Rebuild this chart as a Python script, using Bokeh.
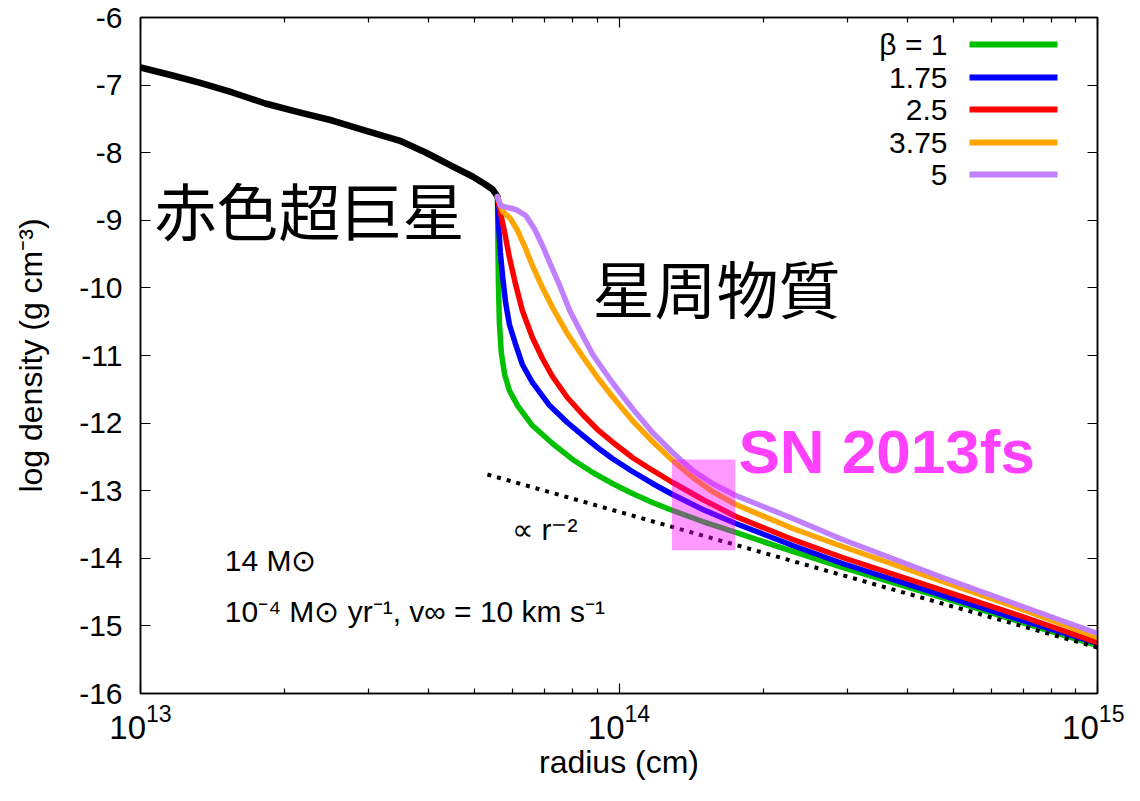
import numpy as np
from bokeh.plotting import figure
from bokeh.models import (Range1d, FixedTicker, LogAxis, LinearAxis, Label, BoxAnnotation,
                          CustomJSTickFormatter)
from bokeh.embed import file_html
from bokeh.resources import INLINE

# ---------------- data ----------------
# red supergiant envelope (log10 radius [cm], log10 density [g cm^-3])
star_log_r = [13.0, 13.067, 13.123, 13.192, 13.261, 13.332, 13.401, 13.470, 13.541, 13.596,
              13.652, 13.694, 13.721, 13.736, 13.746]
star_log_rho = [-6.740, -6.858, -6.962, -7.109, -7.272, -7.405, -7.524, -7.672, -7.820, -7.997,
                -8.204, -8.352, -8.470, -8.544, -8.648]

# circumstellar matter, beta-law winds
b1_log_r = [13.746, 13.747, 13.748, 13.750, 13.754, 13.761, 13.771, 13.788, 13.819, 13.861, 13.903,
            13.945, 13.986, 14.028, 14.070, 14.112, 14.175, 14.244, 14.363, 14.467, 14.676, 14.843, 15.0]
b1_log_rho = [-8.648, -9.328, -9.920, -10.512, -10.956, -11.281, -11.518, -11.740, -12.036, -12.302, -12.538,
              -12.731, -12.893, -13.041, -13.175, -13.293, -13.456, -13.618, -13.899, -14.136, -14.580, -14.950,
              -15.290]

b175_log_r = [13.746, 13.748, 13.752, 13.757, 13.763, 13.771, 13.784, 13.798, 13.819, 13.855, 13.892, 13.924,
              13.955, 13.986, 14.028, 14.070, 14.112, 14.175, 14.244, 14.363, 14.467, 14.676, 14.843, 15.0]
b175_log_rho = [-8.648, -9.033, -9.476, -9.846, -10.216, -10.541, -10.837, -11.133, -11.399, -11.740, -11.991,
                -12.183, -12.361, -12.524, -12.716, -12.893, -13.056, -13.278, -13.485, -13.811, -14.077, -14.550,
                -14.920, -15.260]

b25_log_r = [13.746, 13.750, 13.761, 13.771, 13.784, 13.798, 13.819, 13.840, 13.861, 13.892, 13.924, 13.955,
             13.993, 14.028, 14.064, 14.112, 14.175, 14.244, 14.363, 14.467, 14.676, 14.843, 15.0]
b25_log_rho = [-8.648, -8.811, -9.180, -9.550, -9.950, -10.334, -10.734, -11.044, -11.311, -11.621, -11.873,
               -12.095, -12.317, -12.509, -12.672, -12.879, -13.130, -13.382, -13.722, -13.988, -14.476, -14.861,
               -15.246]

b375_log_r = [13.746, 13.757, 13.773, 13.788, 13.803, 13.819, 13.840, 13.861, 13.892, 13.924, 13.955, 13.986,
              14.028, 14.070, 14.112, 14.154, 14.195, 14.244, 14.363, 14.467, 14.676, 14.843, 15.0]
b375_log_rho = [-8.648, -8.870, -8.973, -9.151, -9.388, -9.669, -9.994, -10.290, -10.675, -11.015, -11.325,
                -11.607, -11.962, -12.272, -12.553, -12.805, -13.012, -13.204, -13.559, -13.825, -14.343, -14.757,
                -15.172]

b5_log_r = [13.746, 13.752, 13.767, 13.784, 13.805, 13.823, 13.840, 13.855, 13.876, 13.897, 13.924, 13.945,
            13.986, 14.028, 14.070, 14.112, 14.154, 14.195, 14.244, 14.363, 14.467, 14.676, 14.843, 15.0]
b5_log_rho = [-8.648, -8.781, -8.811, -8.840, -8.929, -9.121, -9.373, -9.624, -9.964, -10.334, -10.704, -10.985,
              -11.399, -11.784, -12.139, -12.435, -12.701, -12.893, -13.071, -13.411, -13.722, -14.284, -14.713,
              -15.112]

# r^-2 reference line
r2_log_r = [13.725, 15.0]
r2_log_rho = [-12.76, -15.32]

# SN 2013fs box
sn_r = [1.29e14, 1.75e14]
sn_log_rho = [-13.88, -12.54]

beta_labels = ["β = 1", "1.75", "2.5", "3.75", "5"]
beta_colors = ["#00c000", "#0000ff", "#ff0000", "#ffa500", "#c080ff"]
wind_r = [b1_log_r, b175_log_r, b25_log_r, b375_log_r, b5_log_r]
wind_rho = [b1_log_rho, b175_log_rho, b25_log_rho, b375_log_rho, b5_log_rho]

x_major_ticks = [1e13, 1e14, 1e15]
x_minor_ticks = [m * 10.0 ** e for e in (13, 14) for m in range(2, 10)]
y_ticks = list(range(-16, -5))

FONT = "Liberation Sans"
CJK = "Noto Sans CJK JP"

# ---------------- figure ----------------
p = figure(width=1124, height=785, x_axis_type="log",
           x_range=Range1d(1e13, 1e15), y_range=Range1d(-16, -6),
           output_backend="svg", toolbar_location=None,
           min_border_left=140, min_border_right=27, min_border_top=17, min_border_bottom=92,
           background_fill_color="white", border_fill_color="white",
           outline_line_color="black", outline_line_width=1.5)
p.grid.visible = False

blank = CustomJSTickFormatter(code="return ''")

def style_axis(ax, show_labels):
    ax.axis_line_color = "black"
    ax.axis_line_width = 1.5
    ax.major_tick_in = 10
    ax.major_tick_out = 0
    ax.minor_tick_in = 5
    ax.minor_tick_out = 0
    ax.major_tick_line_color = "black"
    ax.major_tick_line_width = 1.2
    ax.minor_tick_line_color = "black"
    ax.minor_tick_line_width = 1.2
    ax.major_label_text_font = FONT
    ax.major_label_text_color = "black"
    ax.major_label_text_font_size = "30px"
    ax.axis_label_text_font = FONT
    ax.axis_label_text_font_style = "normal"
    ax.axis_label_text_color = "black"
    if not show_labels:
        ax.formatter = blank
        ax.major_label_standoff = 0

xt = FixedTicker(ticks=x_major_ticks, minor_ticks=x_minor_ticks)
yt = FixedTicker(ticks=y_ticks)

xa = p.xaxis[0]
xa.ticker = xt
style_axis(xa, True)
xa.major_label_text_font_size = "33px"
xa.axis_label = "radius (cm)"
xa.axis_label_text_font_size = "32px"
xa.major_label_standoff = 10
xa.axis_label_standoff = 2

ya = p.yaxis[0]
ya.ticker = yt
style_axis(ya, True)
ya.formatter = CustomJSTickFormatter(code="return tick.toFixed(0)")
ya.axis_label = "log density (g cm⁻³)"
ya.axis_label_text_font_size = "32px"
ya.major_label_standoff = 18
ya.axis_label_standoff = 27

top = LogAxis(ticker=xt)
style_axis(top, False)
p.add_layout(top, "above")

right = LinearAxis(ticker=yt)
style_axis(right, False)
p.add_layout(right, "right")

# ---------------- curves ----------------
p.line(10 ** np.array(star_log_r), star_log_rho, line_color="black", line_width=6.5,
       line_join="round", line_cap="round")
for lr, rho, col in zip(wind_r, wind_rho, beta_colors):
    p.line(10 ** np.array(lr), rho, line_color=col, line_width=5.5, line_join="round", line_cap="round")

p.line(10 ** np.array(r2_log_r), r2_log_rho, line_color="black", line_width=4, line_dash="4 6")

p.quad(left=[sn_r[0]], right=[sn_r[1]], bottom=[sn_log_rho[0]], top=[sn_log_rho[1]],
       fill_color="#ff00ff", fill_alpha=0.4, line_alpha=0)

# ---------------- annotations ----------------
def lab(x, y, text, size="30px", font=FONT, color="black", style="normal", align="left", baseline="middle",
        xu="data", yu="data"):
    p.add_layout(Label(x=x, y=y, x_units=xu, y_units=yu, text=text, text_font=font, text_font_size=size,
                       text_color=color, text_font_style=style, text_align=align, text_baseline=baseline))

lab(1.07e13, -8.84, "赤色超巨星", size="62px", font=CJK)
lab(8.8e13, -9.99, "星周物質", size="62px", font=CJK)
lab(1.777e14, -12.42, "SN 2013fs", size="62px", color="#ff40ff", style="bold")
lab(5.98e13, -13.57, "∝ r⁻²")
lab(1.5e13, -14.03, "14 M⊙")
lab(1.5e13, -14.79, "10⁻⁴ M⊙ yr⁻¹, v∞ = 10 km s⁻¹")

# legend (top right, label then line sample)
leg_y = [649, 616, 584, 551, 519]
for txt, col, yy in zip(beta_labels, beta_colors, leg_y):
    lab(807, yy, txt, align="right", xu="screen", yu="screen")
    p.add_layout(BoxAnnotation(left=829, right=917, bottom=yy - 3, top=yy + 3,
                               left_units="screen", right_units="screen",
                               bottom_units="screen", top_units="screen",
                               fill_color=col, fill_alpha=1.0, line_alpha=0))

open("out.html", "w").write(file_html(p, INLINE))
